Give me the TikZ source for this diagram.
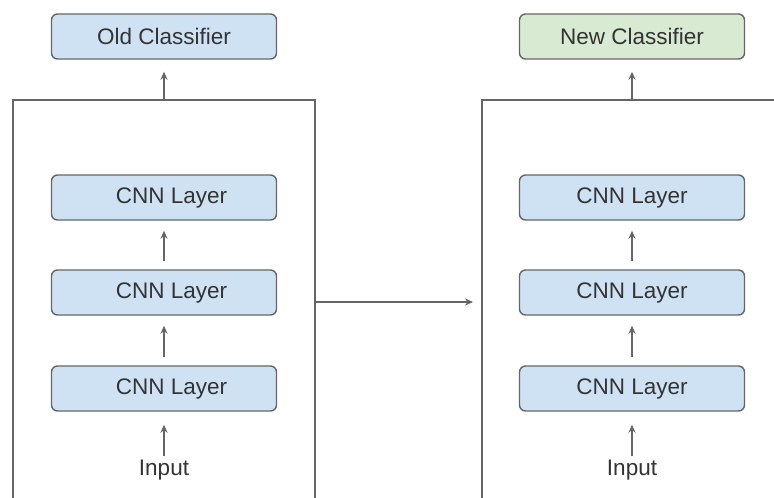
\documentclass[tikz,border=0pt]{standalone}
\usepackage{fontspec}
\setmainfont{Liberation Sans}
\usetikzlibrary{arrows.meta}
\definecolor{boxblue}{HTML}{CFE2F3}
\definecolor{boxgreen}{HTML}{D9EAD3}
\definecolor{edgegray}{HTML}{666666}
\definecolor{txtgray}{HTML}{333333}
\tikzset{
  layerbox/.style={draw=edgegray, line width=1.4pt, rounded corners=6pt, fill=boxblue,
    minimum width=225pt, minimum height=45pt, inner sep=0pt, text=txtgray,
    font=\fontsize{22.5}{24}\selectfont},
  newbox/.style={layerbox, fill=boxgreen},
  plain/.style={text=txtgray, font=\fontsize{22.5}{24}\selectfont, inner sep=0pt},
  conn/.style={draw=edgegray, line width=1.4pt, -{Stealth[length=8pt,width=7pt]}},
  frame/.style={draw=edgegray, line width=1.4pt}
}
\begin{document}
\begin{tikzpicture}[x=1pt,y=-1pt]
\useasboundingbox (0,0) rectangle (774,498);
% left column
\node[layerbox] (oldc) at (164,36.5) {Old Classifier};
\node[layerbox] (l3) at (164,197.5) {\hspace*{15pt}CNN Layer};
\node[layerbox] (l2) at (164,292.5) {\hspace*{15pt}CNN Layer};
\node[layerbox] (l1) at (164,388.5) {\hspace*{15pt}CNN Layer};
\node[plain] (inl) at (164,470) {Input};
\coordinate (ltop) at (164,100);
\draw[frame] (13,500) -- (13,100) -- (315,100) -- (315,500);
\coordinate (lright) at (315,302);
% right column
\node[newbox] (newc) at (632,36.5) {New Classifier};
\node[layerbox] (r3) at (632,197.5) {CNN Layer};
\node[layerbox] (r2) at (632,292.5) {CNN Layer};
\node[layerbox] (r1) at (632,388.5) {CNN Layer};
\node[plain] (inr) at (632,470) {Input};
\coordinate (rtop) at (632,100);
\draw[frame] (482,500) -- (482,100) -- (776,100);
\coordinate (rleft) at (473,302);
% connectors
\draw[conn] (ltop) -- ([yshift=-12pt]oldc.south);
\draw[conn] (rtop) -- ([yshift=-12pt]newc.south);
\draw[conn] ([yshift=8pt]l2.north) -- ([yshift=-10pt]l3.south);
\draw[conn] ([yshift=8pt]l1.north) -- ([yshift=-10pt]l2.south);
\draw[conn] ([yshift=4pt]inl.north) -- ([yshift=-13pt]l1.south);
\draw[conn] ([yshift=8pt]r2.north) -- ([yshift=-10pt]r3.south);
\draw[conn] ([yshift=8pt]r1.north) -- ([yshift=-10pt]r2.south);
\draw[conn] ([yshift=4pt]inr.north) -- ([yshift=-13pt]r1.south);
\draw[conn] (lright) -- (rleft);
\end{tikzpicture}
\end{document}
